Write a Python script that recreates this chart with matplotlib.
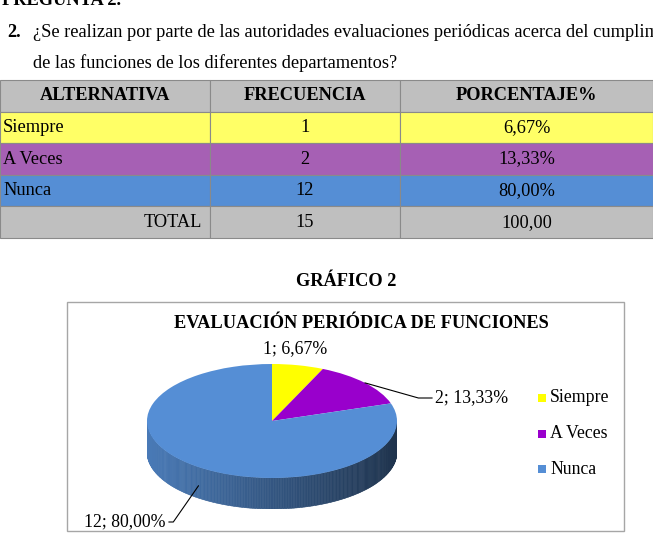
import numpy as np
import matplotlib
matplotlib.use("Agg")
import matplotlib.pyplot as plt
from matplotlib.patches import Rectangle
from matplotlib.colors import to_rgb

plt.rcParams["font.family"] = ["Liberation Serif", "DejaVu Serif"]

# datos de la pregunta 2
alternativas = ["Siempre", "A Veces", "Nunca"]
frecuencia = [1, 2, 12]
encabezados = ["ALTERNATIVA", "FRECUENCIA", "PORCENTAJE%"]
colores_tabla = ["#ffff66", "#a660b4", "#558ed5"]
colores_pie = ["#ffff00", "#9900cc", "#558ed5"]
pregunta = [
    "¿Se realizan por parte de las autoridades evaluaciones periódicas acerca del cumplimiento",
    "de las funciones de los diferentes departamentos?",
]
titulo = "EVALUACIÓN PERIÓDICA DE FUNCIONES"

total = sum(frecuencia)
porcentaje = [100 * f / total for f in frecuencia]


def coma(x):
    return f"{x:.2f}".replace(".", ",")


W, H = 653, 543
fig = plt.figure(figsize=(W / 100, H / 100), dpi=100)
fig.patch.set_facecolor("white")

# capa de pagina en pixeles
page = fig.add_axes([0, 0, 1, 1])
page.set_xlim(0, W)
page.set_ylim(H, 0)
page.axis("off")

fs = 13.2
page.text(2, 5, "PREGUNTA 2.", fontsize=fs, fontweight="bold", va="baseline")
page.text(7, 37, "2.", fontsize=fs, fontweight="bold", va="baseline")
page.text(33, 37, pregunta[0], fontsize=fs, va="baseline")
page.text(33, 68, pregunta[1], fontsize=fs, va="baseline")

# tabla
col_x = [0, 210, 400, W]
y0, rh = 80, 31.6
filas = [encabezados]
for alt, f, p in zip(alternativas, frecuencia, porcentaje):
    filas.append([alt, str(f), coma(p) + "%"])
filas.append(["TOTAL", str(total), coma(sum(porcentaje))])
fondos = ["#bfbfbf"] + colores_tabla + ["#bfbfbf"]

for i, fila in enumerate(filas):
    top = y0 + i * rh
    for j in range(3):
        page.add_patch(Rectangle((col_x[j], top), col_x[j + 1] - col_x[j], rh,
                                 facecolor=fondos[i], edgecolor="#8a8a8a", lw=0.8))
        yc = top + rh / 2
        if i == 0:
            page.text((col_x[j] + col_x[j + 1]) / 2, yc, fila[j], fontsize=fs,
                      fontweight="bold", ha="center", va="center")
        elif j == 0 and i == len(filas) - 1:
            page.text(col_x[1] - 8, yc, fila[j], fontsize=fs, ha="right", va="center")
        elif j == 0:
            page.text(3, yc, fila[j], fontsize=fs, ha="left", va="center")
        else:
            page.text((col_x[j] + col_x[j + 1]) / 2, yc, fila[j], fontsize=fs,
                      ha="center", va="center")

page.text(346, 282, "GRÁFICO 2", fontsize=fs, fontweight="bold", ha="center", va="center")

# marco del grafico
page.add_patch(Rectangle((67, 302), 557, 229, fill=False, edgecolor="#a6a6a6", lw=1))
page.text(361, 323, titulo, fontsize=13.2, fontweight="bold", ha="center", va="center")

# leyenda
for i, (alt, c) in enumerate(zip(alternativas, colores_pie)):
    yl = 398 + 35.5 * i
    page.scatter([541.5], [yl], marker="s", s=36, color=c, linewidths=0)
    page.text(550, yl, alt, fontsize=12.8, ha="left", va="center")

# pastel 3D
cx, cy, a, b, depth = 272, 421, 125, 57, 31
d = depth / b
pie_ax = fig.add_axes([(cx - a) / W, (H - (cy + b + depth)) / H, 2 * a / W, (2 * b + depth) / H])

fr = np.array(frecuencia) / total
acum = np.cumsum(fr) * 360

t = np.linspace(np.pi, 2 * np.pi, 241)
for t0, t1 in zip(t[:-1], t[1:]):
    tm = (t0 + t1) / 2
    off = (90 - np.degrees(tm)) % 360
    k = min(np.searchsorted(acum, off), len(fr) - 1)
    sombra = 0.86 - 0.5 * (np.cos(tm) + 1) / 2
    col = np.array(to_rgb(colores_pie[k])) * sombra
    pie_ax.fill([np.cos(t0), np.cos(t1), np.cos(t1), np.cos(t0)],
                [np.sin(t0), np.sin(t1), np.sin(t1) - d, np.sin(t0) - d],
                color=col, ec=col, lw=0.4)

pie_ax.pie(frecuencia, colors=colores_pie, startangle=90, counterclock=False,
           radius=1, wedgeprops=dict(linewidth=0))
pie_ax.set_aspect("auto")
pie_ax.set_xlim(-1, 1)
pie_ax.set_ylim(-1 - d, 1)
pie_ax.axis("off")

# etiquetas de datos
medios = np.radians(90 - (acum - fr * 180))
etiquetas = [f"{f}; {coma(p)}%" for f, p in zip(frecuencia, porcentaje)]
fl = 12.8

page.text(295, 349, etiquetas[0], fontsize=fl, ha="center", va="center")

# A Veces
ax_x, ax_y = cx + a * np.cos(medios[1]), cy - b * np.sin(medios[1])
tx, ty = 435, 398
angB = np.degrees(np.arctan2(-(ty + 3 - ax_y), tx - 6 - ax_x))
pie_ax.annotate(etiquetas[1], xy=(np.cos(medios[1]), np.sin(medios[1])), xycoords="data",
                xytext=(tx, ty), textcoords=page.transData, fontsize=fl,
                ha="left", va="center",
                arrowprops=dict(arrowstyle="-", color="black", lw=0.8, relpos=(0, 0.5),
                                shrinkA=0, shrinkB=0,
                                connectionstyle=f"angle,angleA=0,angleB={angB:.1f},rad=0"))

# Nunca
nx, ny = np.cos(medios[2]), np.sin(medios[2]) - 0.6 * d
ax_x, ax_y = cx + a * nx, cy - b * ny
tx, ty = 166, 522
angB = np.degrees(np.arctan2(-(ty - 1 - ax_y), tx + 8 - ax_x))
pie_ax.annotate(etiquetas[2], xy=(nx, ny), xycoords="data",
                xytext=(tx, ty), textcoords=page.transData, fontsize=fl,
                ha="right", va="center",
                arrowprops=dict(arrowstyle="-", color="black", lw=0.8, relpos=(1, 0.5),
                                shrinkA=0, shrinkB=0,
                                connectionstyle=f"angle,angleA=0,angleB={angB:.1f},rad=0"))

fig.savefig("out.png", dpi=100)
